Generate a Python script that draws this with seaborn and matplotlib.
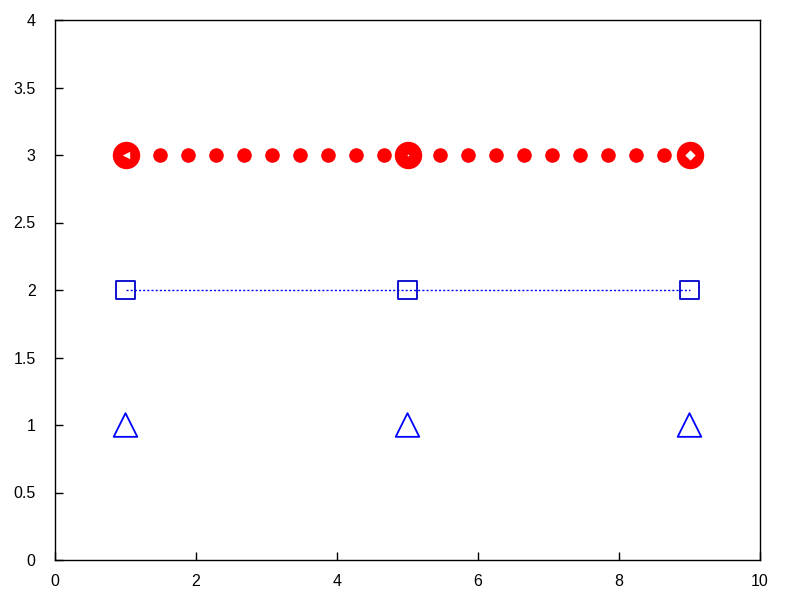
import numpy as np
import pandas as pd
import matplotlib
matplotlib.use("Agg")
import matplotlib.pyplot as plt
import seaborn as sns

# Data
big_x = [1, 5, 9]
big_y = [3, 3, 3]
small_x = [1.49, 1.89, 2.28, 2.68, 3.08, 3.48, 3.87, 4.27, 4.67,
           5.46, 5.86, 6.26, 6.65, 7.05, 7.45, 7.84, 8.24, 8.64]
small_y = [3] * len(small_x)
inner_marks = ['<', '.', 'D']
square_x = [1, 5, 9]
square_y = [2, 2, 2]
tri_x = [1, 5, 9]
tri_y = [1, 1, 1]
xticks = [0, 2, 4, 6, 8, 10]
yticks = [0, 0.5, 1, 1.5, 2, 2.5, 3, 3.5, 4]
ytick_labels = ['0', '0.5', '1', '1.5', '2', '2.5', '3', '3.5', '4']

sns.set_style("white")
plt.rcParams['font.family'] = ['Liberation Sans', 'DejaVu Sans']

fig = plt.figure(figsize=(8, 6), dpi=100)
ax = fig.add_axes([55 / 800, 40 / 600, 705 / 800, 540 / 600])

# Red circles row
sns.scatterplot(x=small_x, y=small_y, ax=ax, color='#ff0000', s=110,
                marker='o', linewidth=0, zorder=3)
sns.scatterplot(x=big_x, y=big_y, ax=ax, color='#ff0000', s=390,
                marker='o', linewidth=0, zorder=3)
for xv, yv, mk in zip(big_x, big_y, inner_marks):
    ax.scatter([xv], [yv], marker=mk, s=28 if mk != '.' else 6,
               color='white', linewidth=0, zorder=4)

# Dotted blue line with squares
sns.lineplot(x=square_x, y=square_y, ax=ax, color='#0000ff', linestyle=(0, (1.5, 1.5)),
             linewidth=1, zorder=2)
sns.scatterplot(x=square_x, y=square_y, ax=ax, marker='s', s=170,
                facecolor='none', edgecolor='#0000cc', linewidth=1.3, zorder=3)

# Triangles
sns.scatterplot(x=tri_x, y=tri_y, ax=ax, marker='^', s=290,
                facecolor='none', edgecolor='#0000ff', linewidth=1.3, zorder=3)

ax.set_xlim(0, 10)
ax.set_ylim(0, 4)
ax.set_xticks(xticks)
ax.set_xticklabels([str(t) for t in xticks])
ax.set_yticks(yticks)
ax.set_yticklabels(ytick_labels)
ax.tick_params(direction='in', length=6, width=1, labelsize=11.5, colors='black',
               top=False, right=False, left=True, bottom=True, pad=14)
ax.tick_params(axis='x', pad=10)
for sp in ax.spines.values():
    sp.set_color('black')
    sp.set_linewidth(1)
ax.grid(False)

fig.savefig("out.png", dpi=100)
